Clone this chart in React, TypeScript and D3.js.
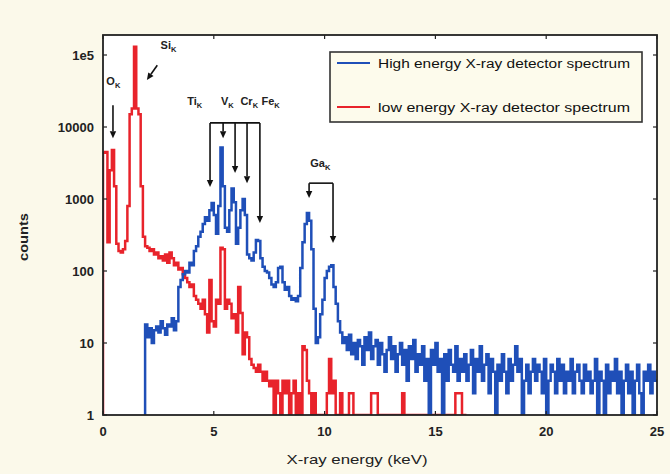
import React from 'react';
import * as d3 from 'd3';

// Spectra: counts per 0.1 keV bin
const binWidth = 0.1;
const lowStart = 0.0;
const lowCounts = [
  4400, 4500, 250, 2500, 4800, 1500, 240, 190, 180, 200,
  260, 800, 15000, 18000, 130000, 18000, 15000, 1500, 300, 220,
  210, 190, 200, 170, 180, 150, 160, 140, 170, 130,
  180, 150, 120, 130, 105, 110, 90, 80, 70, 60,
  65, 45, 40, 35, 30, 40, 25, 14, 75, 20,
  17, 40, 35, 210, 200, 30, 40, 35, 22, 25,
  14, 60, 26, 7, 14, 12, 6, 5, 4.5, 4,
  5, 4, 3, 4, 3, 2.5, 3, 1, 3, 2,
  1, 3, 2, 3, 1, 2, 3, 1, 2, 1,
  9, 8, 3, 2, 1, 2, 1, 1, 1, 1,
  1, 2, 6, 2, 3, 1, 1, 2, 1, 1,
  1, 2, 2, 1, 1, 1, 1, 1, 1, 1,
  1, 2, 2, 2, 1, 1, 1, 1, 1, 1,
  1, 1, 1, 1, 1, 2, 1, 1, 1, 1,
  1, 1, 1, 1, 1, 1, 1, 1, 1, 1,
  1, 1, 1, 1, 1, 1, 1, 1, 1, 2,
  2, 2, 1, 1,
];
const highStart = 1.9;
const highCounts = [
  18, 12, 16, 10, 15, 17, 14, 20, 16, 13,
  18, 17, 22, 15, 20, 60, 75, 90, 100, 95,
  130, 120, 190, 220, 300, 350, 450, 560, 500, 700,
  880, 600, 330, 800, 5200, 1500, 400, 350, 700, 1400,
  900, 240, 400, 700, 1000, 600, 170, 150, 140, 180,
  270, 260, 150, 115, 100, 95, 80, 65, 60, 70,
  110, 115, 70, 55, 60, 45, 40, 42, 38, 45,
  110, 250, 450, 640, 500, 200, 30, 10, 12, 25,
  40, 80, 100, 115, 120, 60, 35, 20,
  14, 10, 12, 8, 13, 7, 10, 6, 11, 9,
  5, 12, 8, 14, 6, 9, 11, 5, 10, 7,
  4, 8, 12, 6, 9, 4, 7, 10, 5, 8,
  3, 9, 6, 11, 4, 7, 5, 9, 3, 6,
  1, 8, 5, 10, 4, 6, 1, 7, 3, 8,
  5, 4, 9, 3, 6, 4, 7, 3, 5, 8,
  2, 6, 4, 9, 3, 5, 7, 2, 6, 4,
  1, 5, 3, 7, 4, 2, 6, 3, 5, 9,
  4, 6, 1, 3, 5, 2, 4, 6, 3, 5,
  4, 2, 6, 1, 3, 5, 4, 2, 6, 3,
  5, 2, 4, 3, 6, 2, 4, 5, 3, 2,
  5, 3, 4, 2, 3, 6, 1, 4, 3, 1,
  5, 2, 4, 3, 6, 2, 4, 1, 3, 5,
  2, 4, 1, 3, 5, 2, 1, 4, 3, 5,
  2, 4, 3,
];

const xTicks = [0, 5, 10, 15, 20, 25];
const yTicks = [1, 10, 100, 1000, 10000, 100000];
const yTickLabels = ['1', '10', '100', '1000', '10000', '1e5'];
const seriesNames = ['High energy X-ray detector spectrum', 'low energy X-ray detector spectrum'];
const seriesColors = ['#1f4fb8', '#e8232b'];

// Annotations in data units (keV, counts)
const groupLabels = [
  { el: 'Ti', e: 3.8, c: 20000 },
  { el: 'V', e: 5.32, c: 20000 },
  { el: 'Cr', e: 6.2, c: 20000 },
  { el: 'Fe', e: 7.15, c: 20000 },
];
const groupBracket = 11400;
const groupArrows = [
  { e: 4.83, tip: 1470 },
  { e: 5.42, tip: 7000 },
  { e: 5.96, tip: 2300 },
  { e: 6.5, tip: 1660 },
  { e: 7.08, tip: 465 },
];
const gaLabel = { el: 'Ga', e: 9.35, c: 2800 };
const gaBracket = 1660;
const gaArrows = [
  { e: 9.3, tip: 1030 },
  { e: 10.38, tip: 245 },
];
const oLabel = { el: 'O', e: 0.15, c: 38000 };
const oArrow = { e: 0.45, from: 20000, tip: 7000 };
const siLabel = { el: 'Si', e: 2.6, c: 120000 };
const siArrow = { e0: 2.45, c0: 72000, e1: 1.98, c1: 45000 };

const W = 670;
const H = 474;
const L = 103, R = 657, T = 35, B = 415;

export default function App() {
  const x = d3.scaleLinear().domain([0, 25]).range([L, R]);
  const y = d3.scaleLog().domain([1, Math.pow(10, (B - T) / 72)]).range([B, T]);

  const toPts = (start: number, arr: number[]) => {
    const pts = [{ e: start, v: 1 }];
    arr.forEach((v, i) => pts.push({ e: start + i * binWidth, v }));
    pts.push({ e: start + arr.length * binWidth, v: arr[arr.length - 1] });
    return pts;
  };
  const line = d3
    .line<{ e: number; v: number }>()
    .x((d) => x(d.e))
    .y((d) => y(Math.max(1, d.v)))
    .curve(d3.curveStepAfter);

  const lowPath = line(toPts(lowStart, lowCounts)) || '';
  const highPath = line(toPts(highStart, highCounts)) || '';

  const font = 'Liberation Sans, Arial, sans-serif';

  const Arrow = ({ x1, y1, x2, y2 }: { x1: number; y1: number; x2: number; y2: number }) => {
    const ang = Math.atan2(y2 - y1, x2 - x1);
    const len = 7, hw = 3.2;
    const bx = x2 - len * Math.cos(ang), by = y2 - len * Math.sin(ang);
    const px = -Math.sin(ang) * hw, py = Math.cos(ang) * hw;
    return (
      <g>
        <line x1={x1} y1={y1} x2={bx} y2={by} stroke="#111" strokeWidth={1.6} />
        <polygon points={`${x2},${y2} ${bx + px},${by + py} ${bx - px},${by - py}`} fill="#111" />
      </g>
    );
  };

  const Lab = ({ el, xx, yy }: { el: string; xx: number; yy: number }) => (
    <text x={xx} y={yy} fontFamily={font} fontSize={11} fontWeight="bold" fill="#222">
      {el}
      <tspan fontSize={7.5} dy={3}>K</tspan>
    </text>
  );

  return (
    <svg width={W} height={H} style={{ position: 'absolute', left: 0, top: 0 }}>
      <rect x={0} y={0} width={W} height={H} fill="#fbf9ea" />
      <rect x={L} y={T} width={R - L} height={B - T} fill="#ffffff" />
      <defs>
        <clipPath id="plotclip">
          <rect x={L} y={T} width={R - L} height={B - T} />
        </clipPath>
      </defs>
      <g clipPath="url(#plotclip)">
        <path d={lowPath} fill="none" stroke={seriesColors[1]} strokeWidth={2.5} strokeLinejoin="miter" />
        <path d={highPath} fill="none" stroke={seriesColors[0]} strokeWidth={2.5} strokeLinejoin="miter" />
      </g>
      {/* frame */}
      <rect x={L} y={T} width={R - L} height={B - T} fill="none" stroke="#222" strokeWidth={1.8} />
      {/* ticks */}
      {yTicks.map((t, i) => (
        <g key={'y' + i}>
          <line x1={L} x2={L + 4} y1={y(t)} y2={y(t)} stroke="#222" strokeWidth={1.2} />
          <line x1={R} x2={R - 4} y1={y(t)} y2={y(t)} stroke="#222" strokeWidth={1.2} />
          <text x={L - 9} y={y(t) + 4.5} textAnchor="end" fontFamily={font} fontSize={13} fontWeight="bold" fill="#222">
            {yTickLabels[i]}
          </text>
        </g>
      ))}
      {xTicks.map((t, i) => (
        <g key={'x' + i}>
          <line x1={x(t)} x2={x(t)} y1={B} y2={B - 4} stroke="#222" strokeWidth={1.2} />
          <line x1={x(t)} x2={x(t)} y1={T} y2={T + 4} stroke="#222" strokeWidth={1.2} />
          <text x={x(t)} y={B + 21} textAnchor="middle" fontFamily={font} fontSize={13} fontWeight="bold" fill="#222">
            {t}
          </text>
        </g>
      ))}
      <text x={357} y={H - 10} textAnchor="middle" fontFamily={font} fontSize={13} fill="#222" textLength={141} lengthAdjust="spacingAndGlyphs">
        X-ray energy (keV)
      </text>
      <text transform={`translate(28, 237) rotate(-90)`} textAnchor="middle" fontFamily={font} fontSize={13} fontWeight="bold" fill="#222" textLength={48} lengthAdjust="spacingAndGlyphs">
        counts
      </text>

      {/* legend */}
      <rect x={330} y={52} width={312} height={70} fill="#fdfbec" stroke="#333" strokeWidth={1.6} />
      {seriesNames.map((n, i) => (
        <g key={n}>
          <line x1={337} x2={370} y1={63 + i * 44} y2={63 + i * 44} stroke={seriesColors[i]} strokeWidth={2} />
          <text x={378} y={67.5 + i * 44} fontFamily={font} fontSize={12.5} fill="#111" textLength={252} lengthAdjust="spacingAndGlyphs">
            {n}
          </text>
        </g>
      ))}

      {/* annotations */}
      <Lab el={oLabel.el} xx={x(oLabel.e)} yy={y(oLabel.c)} />
      <Arrow x1={x(oArrow.e)} y1={y(oArrow.from)} x2={x(oArrow.e)} y2={y(oArrow.tip)} />
      <Lab el={siLabel.el} xx={x(siLabel.e)} yy={y(siLabel.c)} />
      <Arrow x1={x(siArrow.e0)} y1={y(siArrow.c0)} x2={x(siArrow.e1)} y2={y(siArrow.c1)} />

      {groupLabels.map((g) => (
        <Lab key={g.el} el={g.el} xx={x(g.e)} yy={y(g.c)} />
      ))}
      <line x1={x(groupArrows[0].e)} x2={x(groupArrows[groupArrows.length - 1].e)} y1={y(groupBracket)} y2={y(groupBracket)} stroke="#111" strokeWidth={1.6} />
      {groupArrows.map((a, i) => (
        <Arrow key={i} x1={x(a.e)} y1={y(groupBracket)} x2={x(a.e)} y2={y(a.tip)} />
      ))}

      <Lab el={gaLabel.el} xx={x(gaLabel.e)} yy={y(gaLabel.c)} />
      <line x1={x(gaArrows[0].e)} x2={x(gaArrows[1].e)} y1={y(gaBracket)} y2={y(gaBracket)} stroke="#111" strokeWidth={1.6} />
      {gaArrows.map((a, i) => (
        <Arrow key={i} x1={x(a.e)} y1={y(gaBracket)} x2={x(a.e)} y2={y(a.tip)} />
      ))}
    </svg>
  );
}
